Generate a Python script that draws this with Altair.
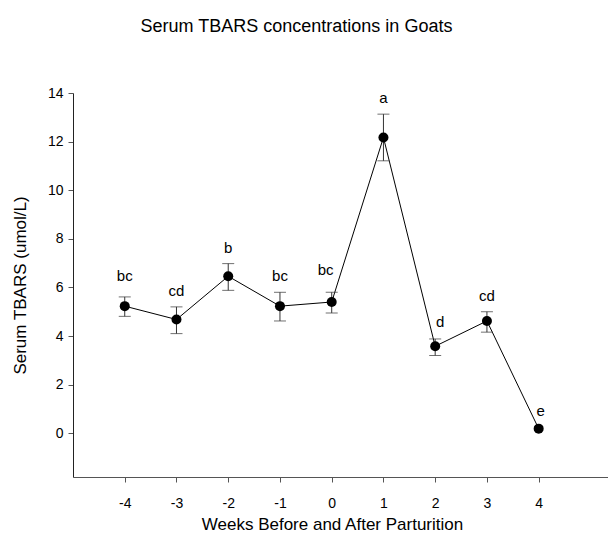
import altair as alt
import pandas as pd

weeks = [-4, -3, -2, -1, 0, 1, 2, 3, 4]
means = [5.23, 4.68, 6.46, 5.23, 5.40, 12.17, 3.58, 4.62, 0.19]
err_hi = [5.61, 5.20, 6.98, 5.80, 5.80, 13.13, 3.88, 5.00, 0.19]
err_lo = [4.81, 4.10, 5.88, 4.62, 4.95, 11.21, 3.20, 4.16, 0.19]
letters = ["bc", "cd", "b", "bc", "bc", "a", "d", "cd", "e"]
y_ticks = [0, 2, 4, 6, 8, 10, 12, 14]
x_ticks = [-4, -3, -2, -1, 0, 1, 2, 3, 4]

df = pd.DataFrame({"week": weeks, "mean": means, "hi": err_hi, "lo": err_lo, "letter": letters})
df["has_err"] = df["hi"] > df["mean"]

FONT = "Liberation Sans"
xs = alt.Scale(domain=[-5, 5.34], nice=False, zero=False)
ys = alt.Scale(domain=[-1.8, 14], nice=False, zero=False)

x_enc = alt.X("week:Q", scale=xs, axis=alt.Axis(
    values=x_ticks, title="Weeks Before and After Parturition", grid=False,
    labelExpr="toString(datum.value)",
    tickSize=5, labelPadding=14, labelFontSize=14, titleFontSize=17,
    titleFontWeight="normal", titleX=259, titleY=52, titleBaseline="alphabetic",
    domainColor="#555", tickColor="#555", labelColor="black", titleColor="black"))
y_enc = alt.Y("mean:Q", scale=ys, axis=alt.Axis(
    values=y_ticks, title="Serum TBARS (umol/L)", grid=False,
    tickSize=5, labelPadding=5, labelFontSize=14, titleFontSize=17,
    titleFontWeight="normal", titleX=-53, titleY=192, titleBaseline="middle",
    titleAngle=-90, domainColor="#222", tickColor="#555", labelColor="black",
    titleColor="black"))

base = alt.Chart(df)
line = base.mark_line(color="black", strokeWidth=1).encode(x=x_enc, y=y_enc)
errdf = base.transform_filter("datum.has_err")
rules = errdf.mark_rule(color="#333", strokeWidth=1).encode(
    x="week:Q", y=alt.Y("lo:Q", scale=ys), y2="hi:Q")
caps_hi = errdf.mark_tick(color="#333", orient="horizontal", size=12, thickness=1).encode(
    x="week:Q", y=alt.Y("hi:Q", scale=ys))
caps_lo = errdf.mark_tick(color="#333", orient="horizontal", size=12, thickness=1).encode(
    x="week:Q", y=alt.Y("lo:Q", scale=ys))
points = base.mark_circle(color="black", opacity=1, size=100).encode(x="week:Q", y="mean:Q")

lab_common = dict(font=FONT, fontSize=15, color="black", baseline="middle", align="center")


def label_layer(cond, field, dy, dx=0):
    return base.transform_filter(cond).mark_text(dy=dy, dx=dx, **lab_common).encode(
        x="week:Q", y=alt.Y(f"{field}:Q", scale=ys), text="letter:N")


labels = [
    label_layer("datum.week == -4", "hi", -21),
    label_layer("datum.has_err && datum.week > -4 && datum.week != 0 && datum.week != 2", "hi", -16),
    label_layer("datum.week == 0", "hi", -22, -6),
    label_layer("datum.week == 2", "hi", -17, 5),
    label_layer("!datum.has_err", "mean", -18, 2),
]

chart = alt.layer(line, rules, caps_hi, caps_lo, points, *labels).properties(
    width=535, height=384,
    title=alt.TitleParams("Serum TBARS concentrations in Goats", fontSize=18,
                          fontWeight="normal", font=FONT, color="black",
                          anchor="middle", dx=-44, offset=50),
    autosize=alt.AutoSizeParams(type="none"),
    padding={"left": 65, "top": 85, "right": 0, "bottom": 56},
).configure_view(stroke=None).configure_axis(labelFont=FONT, titleFont=FONT)

chart.save("out.html", embed_options={"renderer": "svg", "actions": False})
